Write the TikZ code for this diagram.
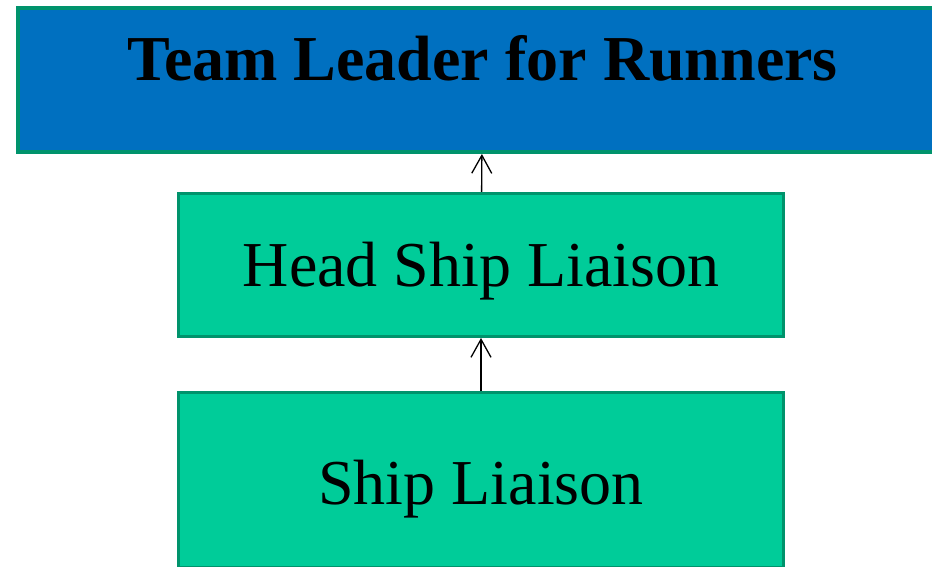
\documentclass[tikz,border=0pt]{standalone}
\usepackage{fontspec}
\setmainfont{Liberation Serif}
\usetikzlibrary{arrows.meta}
\definecolor{leadblue}{HTML}{0070C0}
\definecolor{liaisongreen}{HTML}{00CC99}
\definecolor{edgegreen}{HTML}{00936C}
\newcommand{\boxfont}{\fontsize{64}{70}\selectfont}

\begin{document}
\begin{tikzpicture}[x=1pt,y=1pt,
  rolebox/.style={draw=edgegreen,line width=3pt,fill=liaisongreen,inner sep=0pt,
    minimum width=605pt,font=\boxfont},
  leadbox/.style={draw=edgegreen,line width=4pt,fill=leadblue,inner sep=0pt,
    minimum width=930pt,font=\boxfont\bfseries},
  report/.style={-{Straight Barb[length=18pt,width=20pt]},line width=1.3pt}]
\useasboundingbox (0,0) rectangle (932,567);

\node[leadbox,text height=73pt,text depth=71pt] (leader) at (482.5,487) {Team Leader for Runners};
\node[rolebox,text height=93.5pt,text depth=49.5pt] (head) at (481,302) {Head Ship Liaison};
\node[rolebox,text height=112.5pt,text depth=63pt] (liaison) at (481,86.75) {Ship Liaison};

\path[report] (liaison) edge (head);
\path[report] (head) edge (leader);
\end{tikzpicture}
\end{document}
